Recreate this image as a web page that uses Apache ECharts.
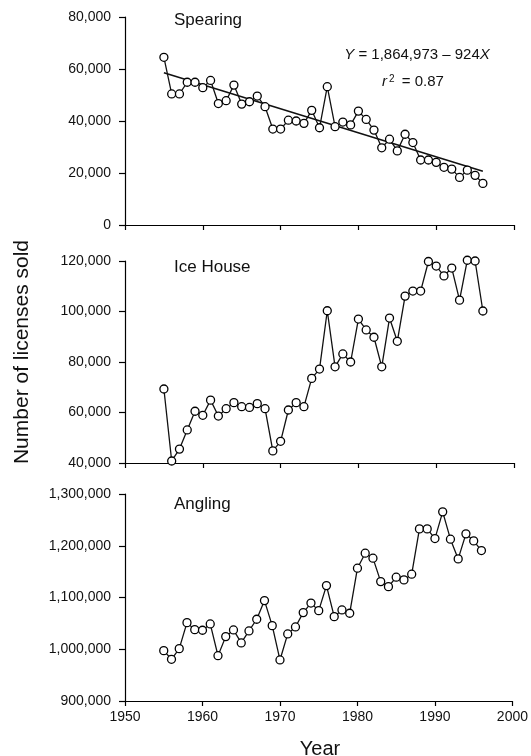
<!DOCTYPE html>
<html>
<head>
<meta charset="utf-8">
<script src="https://cdn.jsdelivr.net/npm/echarts@6/dist/echarts.min.js"></script>
<style>
html,body{margin:0;padding:0;background:#fff;}
#chart{width:531px;height:756px;}
</style>
</head>
<body>
<div id="chart"></div>
<script>
const years = [1955,1956,1957,1958,1959,1960,1961,1962,1963,1964,1965,1966,1967,1968,1969,1970,1971,1972,1973,1974,1975,1976,1977,1978,1979,1980,1981,1982,1983,1984,1985,1986,1987,1988,1989,1990,1991,1992,1993,1994,1995,1996];
const spearing = [64500,50400,50400,54900,54900,52800,55600,46700,47800,53800,46500,47400,49600,45500,36900,36900,40300,40000,39100,44100,37400,53200,37800,39600,38500,43800,40600,36500,29700,33000,28500,34900,31700,25000,25000,24100,22200,21500,18300,21100,19100,16000];
const iceHouse = [69300,40800,45500,53100,60500,58900,64900,58600,61500,63900,62300,62000,63500,61500,44800,48600,61000,63900,62300,73500,77200,100300,78100,83200,80000,97000,92700,89800,78100,97400,88200,106100,108100,108100,119800,118000,114100,117200,104500,120300,120000,100200];
const angling = [997300,980600,1001200,1051400,1037900,1036700,1048900,987600,1024400,1037300,1012200,1035400,1058000,1094000,1045600,979300,1029600,1043100,1070800,1089300,1074600,1123000,1063000,1076000,1069600,1156600,1185600,1176000,1130700,1121000,1139200,1134000,1145000,1232600,1232600,1213900,1265500,1212700,1174600,1223000,1209400,1190700];
const trendYears = [1955, 1996];
const trendValues = [58553, 20669];
const panelTitles = ['Spearing', 'Ice House', 'Angling'];
const yRanges = [[0, 80000, 20000], [40000, 120000, 20000], [900000, 1300000, 100000]];
const xTicks = [1950, 2000, 10];

const FONT = "'Liberation Sans', Arial, Helvetica, sans-serif";
const chart = echarts.init(document.getElementById('chart'), null, {renderer: 'canvas'});

const grids = [
  {left: 125, right: 17, top: 17, height: 208},
  {left: 125, right: 17, top: 261, height: 202},
  {left: 125, right: 17, top: 494, height: 207}
];

const xAxes = grids.map((g, i) => ({
  type: 'value', gridIndex: i, min: xTicks[0], max: xTicks[1], interval: xTicks[2],
  axisLine: {show: true, onZero: false, lineStyle: {color: '#000', width: 1.2}},
  axisTick: {show: true, inside: false, length: 5, lineStyle: {color: '#000', width: 1.2}},
  axisLabel: {show: i === 2, color: '#111', fontFamily: FONT, fontSize: 14, margin: 9,
    formatter: v => String(v)},
  splitLine: {show: false}
}));

const yAxes = yRanges.map((r, i) => ({
  type: 'value', gridIndex: i, min: r[0], max: r[1], interval: r[2],
  axisLine: {show: true, onZero: false, lineStyle: {color: '#000', width: 1.2}},
  axisTick: {show: true, inside: false, length: 6, lineStyle: {color: '#000', width: 1.2}},
  axisLabel: {color: '#111', fontFamily: FONT, fontSize: 14, margin: 14,
    formatter: v => v.toLocaleString('en-US')},
  splitLine: {show: false}
}));

function pts(vals) { return years.map((y, i) => [y, vals[i]]); }

const pointStyle = {
  type: 'line', symbol: 'circle', symbolSize: 8, clip: false,
  itemStyle: {color: '#fff', borderColor: '#000', borderWidth: 1.3},
  lineStyle: {color: '#111', width: 1.3},
  z: 3
};

const series = [
  {type: 'line', xAxisIndex: 0, yAxisIndex: 0, data: trendYears.map((y, i) => [y, trendValues[i]]),
   symbol: 'none', lineStyle: {color: '#111', width: 1.6}, z: 2},
  Object.assign({}, pointStyle, {xAxisIndex: 0, yAxisIndex: 0, data: pts(spearing)}),
  Object.assign({}, pointStyle, {xAxisIndex: 1, yAxisIndex: 1, data: pts(iceHouse)}),
  Object.assign({}, pointStyle, {xAxisIndex: 2, yAxisIndex: 2, data: pts(angling)})
];

const titleY = [21, 268, 504.5];
const graphic = panelTitles.map((t, i) => ({
  type: 'text', left: 174, top: titleY[i] - 9,
  style: {text: t, font: '17px ' + FONT, fill: '#111'}
}));
graphic.push({
  type: 'text', x: 22, y: 352, rotation: Math.PI / 2,
  style: {text: 'Number of licenses sold', font: '21px ' + FONT, fill: '#111', align: 'center', verticalAlign: 'middle'}
});
graphic.push({
  type: 'text', x: 320, y: 749,
  style: {text: 'Year', font: '20px ' + FONT, fill: '#111', align: 'center', verticalAlign: 'middle'}
});
graphic.push({
  type: 'text', x: 417, y: 55,
  style: {
    text: '{i|Y} = 1,864,973 \u2013 924{i|X}',
    font: '15px ' + FONT, fill: '#111', align: 'center', verticalAlign: 'middle',
    rich: {i: {fontStyle: 'italic', fontSize: 15, fontFamily: FONT}}
  }
});
graphic.push({
  type: 'text', x: 413, y: 82,
  style: {
    text: '{i|r}{s|2} = 0.87',
    font: '15px ' + FONT, fill: '#111', align: 'center', verticalAlign: 'middle',
    rich: {
      i: {fontStyle: 'italic', fontSize: 15, fontFamily: FONT},
      s: {fontSize: 10, fontFamily: FONT, verticalAlign: 'top', padding: [0, 3, 0, 2]}
    }
  }
});

chart.setOption({
  animation: false,
  backgroundColor: '#fff',
  grid: grids,
  xAxis: xAxes,
  yAxis: yAxes,
  series: series,
  graphic: graphic
});
</script>
</body>
</html>
